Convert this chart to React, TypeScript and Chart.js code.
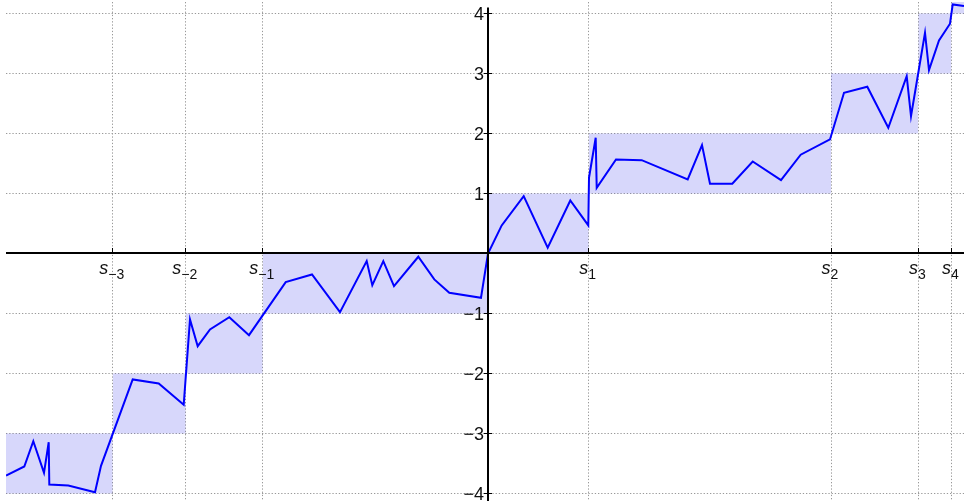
import React, { useEffect, useRef } from 'react';
import { Chart, registerables } from 'chart.js';

Chart.register(...registerables);

// ---- data ----
const LINE_X = [
  -4.82, -4.637, -4.547, -4.44, -4.393, -4.387, -4.197, -3.93, -3.87, -3.553,
  -3.293, -3.043, -2.98, -2.903, -2.78, -2.587, -2.39, -2.023, -1.76, -1.48,
  -1.213, -1.157, -1.047, -0.94, -0.697, -0.537, -0.387, -0.07, 0, 0.137,
  0.357, 0.597, 0.823, 1.003, 1.01, 1.077, 1.087, 1.28, 1.537, 1.997,
  2.14, 2.22, 2.443, 2.647, 2.93, 3.127, 3.42, 3.56, 3.793, 4.003,
  4.187, 4.23, 4.37, 4.41, 4.51, 4.62, 4.647, 4.76,
];
const LINE_Y = [
  -3.7, -3.55, -3.13, -3.655, -3.145, -3.85, -3.867, -3.978, -3.54, -2.1,
  -2.167, -2.522, -1.1, -1.545, -1.267, -1.062, -1.362, -0.478, -0.35, -0.978,
  -0.128, -0.528, -0.128, -0.545, -0.055, -0.433, -0.655, -0.738, 0, 0.467,
  0.955, 0.095, 0.883, 0.467, 1.262, 1.928, 1.095, 1.567, 1.555, 1.233,
  1.805, 1.162, 1.162, 1.533, 1.222, 1.645, 1.9, 2.678, 2.778, 2.095,
  2.955, 2.288, 3.678, 3.055, 3.55, 3.828, 4.15, 4.122,
];

// band edges s_-4 ... s_5 (outer ones lie beyond the visible range)
const S_EDGES = [-5.0, -3.753, -3.023, -2.253, 0, 1.007, 3.43, 4.303, 4.633, 5.0];
const LEVELS = [-4, -3, -2, -1, 0, 1, 2, 3, 4];

const S_TICKS = [-3.753, -3.023, -2.253, 1.007, 3.43, 4.303, 4.633];
const S_SUBS = ['\u22123', '\u22122', '\u22121', '1', '2', '3', '4'];

const Y_TICKS = [-4, -3, -2, -1, 0, 1, 2, 3, 4];
const Y_LABELS = ['\u22124', '\u22123', '\u22122', '\u22121', '', '1', '2', '3', '4'];

const X_MIN = -4.82;
const X_MAX = 4.76;
const Y_MIN = -4.125;
const Y_MAX = 4.19;
const Y_AXIS_TOP = 4.1;

// ---- styles ----
const LINE_COLOR = '#0000ff';
const FILL_COLOR = 'rgba(40,40,235,0.19)';
const GRID_COLOR = '#999999';
const AXIS_COLOR = '#000000';
const TEXT_COLOR = '#111111';
const FONT_FAMILY = '"Liberation Sans", Arial, sans-serif';

const axesPlugin = {
  id: 'centerAxes',
  afterDatasetsDraw(chart: any) {
    const { ctx, chartArea } = chart;
    const xs = chart.scales.x;
    const ys = chart.scales.y;
    const x0 = Math.round(xs.getPixelForValue(0));
    const y0 = Math.round(ys.getPixelForValue(0));
    ctx.save();
    ctx.strokeStyle = AXIS_COLOR;
    ctx.lineWidth = 2;
    ctx.beginPath();
    ctx.moveTo(chartArea.left, y0);
    ctx.lineTo(chartArea.right, y0);
    ctx.moveTo(x0, ys.getPixelForValue(Y_AXIS_TOP));
    ctx.lineTo(x0, chartArea.bottom);
    ctx.stroke();

    ctx.lineWidth = 1;
    ctx.beginPath();
    Y_TICKS.forEach((v) => {
      if (v === 0) return;
      const py = Math.round(ys.getPixelForValue(v) - 0.5) + 0.5;
      ctx.moveTo(x0 - 4, py);
      ctx.lineTo(x0 + 4, py);
    });
    S_TICKS.forEach((v) => {
      const px = Math.round(xs.getPixelForValue(v) - 0.5) + 0.5;
      ctx.moveTo(px, y0 - 5);
      ctx.lineTo(px, y0);
    });
    ctx.stroke();

    ctx.fillStyle = TEXT_COLOR;
    ctx.font = `18px ${FONT_FAMILY}`;
    ctx.textAlign = 'right';
    ctx.textBaseline = 'alphabetic';
    Y_TICKS.forEach((v, i) => {
      const lab = Y_LABELS[i];
      if (!lab) return;
      ctx.fillText(lab, x0 - 4, ys.getPixelForValue(v) + 6.5);
    });

    ctx.textAlign = 'left';
    S_TICKS.forEach((v, i) => {
      const cx = xs.getPixelForValue(v) - 1;
      ctx.font = `italic 18px ${FONT_FAMILY}`;
      const ws = ctx.measureText('s').width;
      ctx.font = `14px ${FONT_FAMILY}`;
      const wsub = ctx.measureText(S_SUBS[i]).width;
      const start = cx - (ws + wsub) / 2;
      ctx.font = `italic 18px ${FONT_FAMILY}`;
      ctx.fillText('s', start, y0 + 20.5);
      ctx.font = `14px ${FONT_FAMILY}`;
      ctx.fillText(S_SUBS[i], start + ws, y0 + 26);
    });
    ctx.restore();
  },
};

export default function App() {
  const canvasRef = useRef<HTMLCanvasElement | null>(null);

  useEffect(() => {
    const canvas = canvasRef.current;
    if (!canvas) return;

    const lineData = LINE_X.map((x, i) => ({ x, y: LINE_Y[i] }));
    const bandSets = LEVELS.map((n, i) => ({
      type: 'line' as const,
      data: [
        { x: S_EDGES[i], y: n + 1 },
        { x: S_EDGES[i + 1], y: n + 1 },
      ],
      fill: { value: n },
      backgroundColor: FILL_COLOR,
      borderColor: 'rgba(0,0,0,0)',
      borderWidth: 0,
      pointRadius: 0,
      tension: 0,
      order: 2,
    }));

    const chart = new Chart(canvas, {
      type: 'line',
      data: {
        datasets: [
          {
            data: lineData,
            borderColor: LINE_COLOR,
            backgroundColor: LINE_COLOR,
            borderWidth: 2,
            pointRadius: 0,
            fill: false,
            tension: 0,
            order: 0,
          } as any,
          ...(bandSets as any[]),
        ],
      },
      options: {
        animation: false,
        responsive: false,
        maintainAspectRatio: false,
        devicePixelRatio: 1,
        events: [],
        layout: { padding: { left: 6, top: 2, right: 0, bottom: 0 } },
        plugins: {
          legend: { display: false },
          tooltip: { enabled: false },
        },
        scales: {
          x: {
            type: 'linear',
            min: X_MIN,
            max: X_MAX,
            bounds: 'data',
            position: { y: 0 } as any,
            afterBuildTicks: (s: any) => {
              s.ticks = S_TICKS.map((v) => ({ value: v }));
            },
            ticks: { display: false },
            grid: { color: GRID_COLOR, lineWidth: 1, drawTicks: false },
            border: { display: false, dash: [1.3, 1.9] },
          },
          y: {
            type: 'linear',
            min: Y_MIN,
            max: Y_MAX,
            bounds: 'data',
            position: { x: 0 } as any,
            afterBuildTicks: (s: any) => {
              s.ticks = Y_TICKS.map((v) => ({ value: v }));
            },
            ticks: { display: false },
            grid: { color: GRID_COLOR, lineWidth: 1, drawTicks: false },
            border: { display: false, dash: [1.3, 1.9] },
          },
        },
      } as any,
      plugins: [axesPlugin],
    });

    return () => {
      chart.destroy();
    };
  }, []);

  return (
    <div style={{ position: 'absolute', left: 0, top: 0, width: 964, height: 501, background: '#fff' }}>
      <canvas ref={canvasRef} width={964} height={501} style={{ display: 'block' }} />
    </div>
  );
}
